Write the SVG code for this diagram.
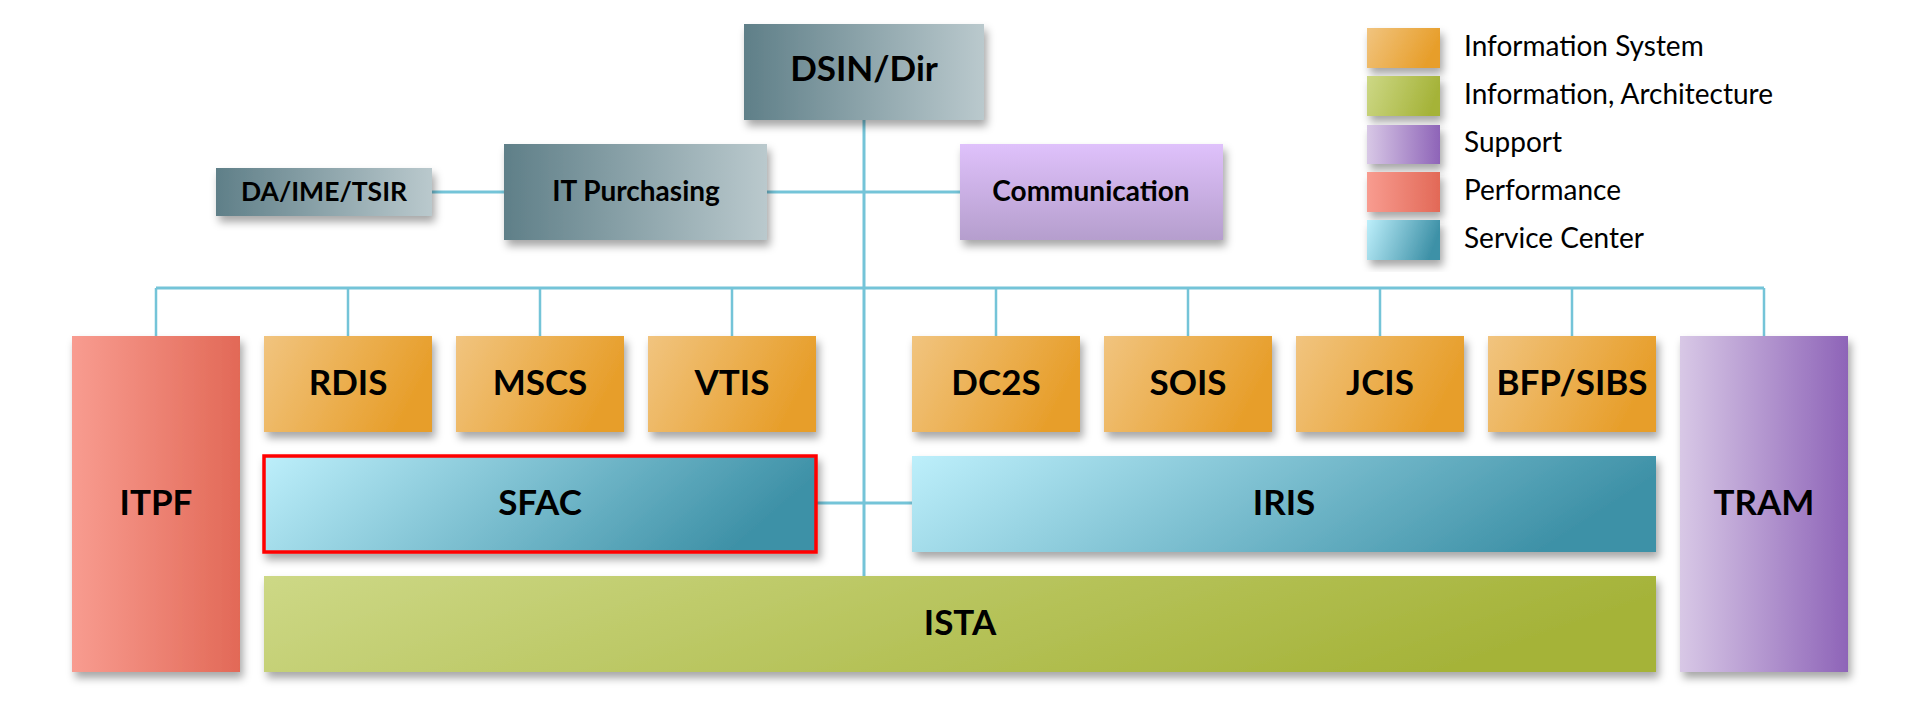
<svg xmlns="http://www.w3.org/2000/svg" width="1920" height="720" viewBox="0 0 1920 720">
<defs>
<linearGradient id="gOrange" x1="0" y1="0" x2="1" y2="0.3"><stop offset="0" stop-color="#f1c47f"/><stop offset="1" stop-color="#e79e2a"/></linearGradient>
<linearGradient id="gRed" x1="0" y1="0" x2="1" y2="0"><stop offset="0" stop-color="#f89c90"/><stop offset="1" stop-color="#e26957"/></linearGradient>
<linearGradient id="gPurple" x1="0" y1="0" x2="1" y2="0"><stop offset="0" stop-color="#d8c8e6"/><stop offset="1" stop-color="#8e64b8"/></linearGradient>
<linearGradient id="gBlue" x1="0" y1="0" x2="1" y2="0.2"><stop offset="0" stop-color="#bdeffb"/><stop offset="1" stop-color="#3e91a7"/></linearGradient>
<linearGradient id="gGreen" x1="0" y1="0" x2="1" y2="0.2"><stop offset="0" stop-color="#cdd886"/><stop offset="1" stop-color="#a5b339"/></linearGradient>
<linearGradient id="gGray" x1="0" y1="0" x2="1" y2="0"><stop offset="0" stop-color="#5f7f88"/><stop offset="1" stop-color="#bac9cd"/></linearGradient>
<linearGradient id="gLav" x1="0" y1="0" x2="0" y2="1"><stop offset="0" stop-color="#dfc1fb"/><stop offset="1" stop-color="#b59ecd"/></linearGradient>
<filter id="sh" x="-10%" y="-10%" width="130%" height="140%"><feDropShadow dx="3" dy="6" stdDeviation="4" flood-color="#000" flood-opacity="0.35"/></filter>
</defs>
<style>
.t{font-family:Lato,"Open Sans","Liberation Sans",sans-serif;fill:#000;text-anchor:middle}
.b{font-weight:bold;font-size:35px}
.m{font-weight:bold;font-size:28px}
.s{font-weight:bold;font-size:26.5px}
.lg{font-family:Lato,"Open Sans","Liberation Sans",sans-serif;font-size:28px;fill:#000}
.c{stroke:#74c4d8;stroke-width:3;fill:none}
.c2{stroke:#74c4d8;stroke-width:2.5;fill:none}
</style>
<rect width="1920" height="720" fill="#fff"/>
<g id="connectors">
<line class="c" x1="864" y1="120" x2="864" y2="576"/>
<line class="c" x1="432" y1="192" x2="504" y2="192"/>
<line class="c" x1="767" y1="192" x2="960" y2="192"/>
<line class="c" x1="156" y1="288" x2="1764" y2="288"/>
<path class="c2" d="M156 288V336M348 288V336M540 288V336M732 288V336M996 288V336M1188 288V336M1380 288V336M1572 288V336M1764 288V336"/>
<line class="c" x1="816" y1="503" x2="912" y2="503"/>
</g>
<g id="DSIN"><rect x="744" y="24" width="240" height="96" fill="url(#gGray)" filter="url(#sh)"/><text class="t b" x="864" y="81">DSIN/Dir</text></g>
<g id="DA"><rect x="216" y="168" width="216" height="48" fill="url(#gGray)" filter="url(#sh)"/><text class="t s" x="324" y="201">DA/IME/TSIR</text></g>
<g id="ITP"><rect x="504" y="144" width="263" height="96" fill="url(#gGray)" filter="url(#sh)"/><text class="t m" x="636" y="201">IT Purchasing</text></g>
<g id="COMM"><rect x="960" y="144" width="263" height="96" fill="url(#gLav)" filter="url(#sh)"/><text class="t m" x="1091" y="201">Communication</text></g>
<g id="ITPF"><rect x="72" y="336" width="168" height="336" fill="url(#gRed)" filter="url(#sh)"/><text class="t b" x="156" y="515">ITPF</text></g>
<g id="RDIS"><rect x="264" y="336" width="168" height="96" fill="url(#gOrange)" filter="url(#sh)"/><text class="t b" x="348" y="395">RDIS</text></g>
<g id="MSCS"><rect x="456" y="336" width="168" height="96" fill="url(#gOrange)" filter="url(#sh)"/><text class="t b" x="540" y="395">MSCS</text></g>
<g id="VTIS"><rect x="648" y="336" width="168" height="96" fill="url(#gOrange)" filter="url(#sh)"/><text class="t b" x="732" y="395">VTIS</text></g>
<g id="DC2S"><rect x="912" y="336" width="168" height="96" fill="url(#gOrange)" filter="url(#sh)"/><text class="t b" x="996" y="395">DC2S</text></g>
<g id="SOIS"><rect x="1104" y="336" width="168" height="96" fill="url(#gOrange)" filter="url(#sh)"/><text class="t b" x="1188" y="395">SOIS</text></g>
<g id="JCIS"><rect x="1296" y="336" width="168" height="96" fill="url(#gOrange)" filter="url(#sh)"/><text class="t b" x="1380" y="395">JCIS</text></g>
<g id="BFP"><rect x="1488" y="336" width="168" height="96" fill="url(#gOrange)" filter="url(#sh)"/><text class="t b" x="1572" y="395">BFP/SIBS</text></g>
<g id="TRAM"><rect x="1680" y="336" width="168" height="336" fill="url(#gPurple)" filter="url(#sh)"/><text class="t b" x="1764" y="515">TRAM</text></g>
<g id="SFAC"><rect x="264" y="456" width="552" height="96" fill="url(#gBlue)" stroke="#ff0000" stroke-width="3.5" filter="url(#sh)"/><text class="t b" x="540" y="515">SFAC</text></g>
<g id="IRIS"><rect x="912" y="456" width="744" height="96" fill="url(#gBlue)" filter="url(#sh)"/><text class="t b" x="1284" y="515">IRIS</text></g>
<g id="ISTA"><rect x="264" y="576" width="1392" height="96" fill="url(#gGreen)" filter="url(#sh)"/><text class="t b" x="960" y="635">ISTA</text></g>
<g id="legend">
<rect x="1367" y="28" width="73" height="40" fill="url(#gOrange)" filter="url(#sh)"/>
<rect x="1367" y="76" width="73" height="40" fill="url(#gGreen)" filter="url(#sh)"/>
<rect x="1367" y="125" width="73" height="39" fill="url(#gPurple)" filter="url(#sh)"/>
<rect x="1367" y="172" width="73" height="40" fill="url(#gRed)" filter="url(#sh)"/>
<rect x="1367" y="220" width="73" height="40" fill="url(#gBlue)" filter="url(#sh)"/>
<text class="lg" x="1464" y="56">Information System</text>
<text class="lg" x="1464" y="104">Information, Architecture</text>
<text class="lg" x="1464" y="152">Support</text>
<text class="lg" x="1464" y="200">Performance</text>
<text class="lg" x="1464" y="248">Service Center</text>
</g>
</svg>
